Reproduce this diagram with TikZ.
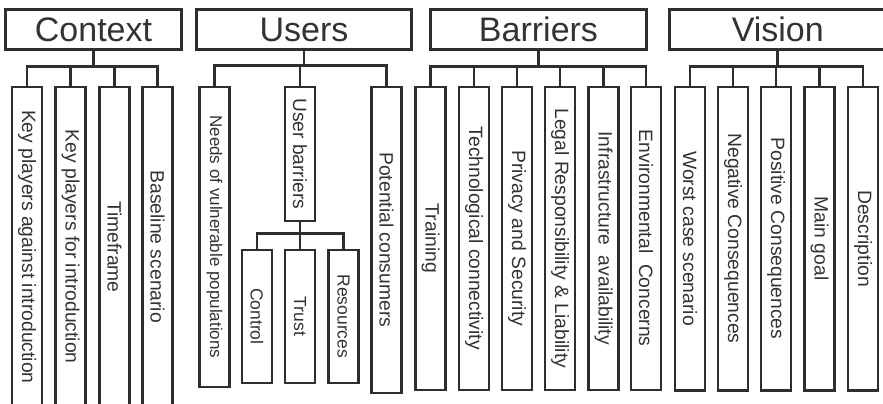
\documentclass[tikz,border=0pt]{standalone}
\usepackage{fontspec}
\setmainfont{Liberation Sans}
\usepackage{graphicx}
\definecolor{ink}{HTML}{2E2E2E}
\definecolor{txt}{HTML}{333333}
\newcommand{\vtext}[2]{\rotatebox[origin=c]{-90}{\fontsize{#1}{#1}\selectfont #2}}
\tikzset{
  box/.style={draw=ink, line width=2.6pt, fill=white, inner sep=0pt, text=txt,
              anchor=north},
  head/.style={box, minimum height=39.5pt, font=\fontsize{34}{34}\selectfont},
  leaf/.style={box, minimum width=30pt},
  conn/.style={line width=2.6pt, draw=ink, line join=miter},
}
\begin{document}
\begin{tikzpicture}[x=1pt, y=-1pt]
\useasboundingbox (0,0) rectangle (883,404);
\clip (0,0) rectangle (883,404);
\fill[white] (0,0) rectangle (883,404);

% headers
\node[head, minimum width=176pt]   (ctx) at (93.5,8.5)  {Context};
\node[head, minimum width=215pt]   (usr) at (304,8.5)   {Users};
\node[head, minimum width=216pt]   (bar) at (538.5,8.5) {Barriers};
\node[head, minimum width=216.5pt] (vis) at (777.75,8.5) {Vision};

\coordinate (hb) at (0,66.5);
\coordinate (ub) at (0,65.5);
\coordinate (sb) at (0,233.5);

% Context
\node[leaf, minimum height=320pt] (c1) at (27,85.5)    {\vtext{19.3}{Key players against introduction}};
\node[leaf, minimum height=320pt] (c2) at (70.5,85.5)  {\vtext{19.3}{Key players for introduction}};
\node[leaf, minimum height=320pt] (c3) at (114.5,85.5) {\vtext{19.3}{Timeframe}};
\node[leaf, minimum height=320pt] (c4) at (157.5,85.5) {\vtext{19.3}{Baseline scenario}};

% Users
\node[leaf, minimum height=300pt] (u1) at (214.5,85.5) {\vtext{17}{Needs of vulnerable populations}};
\node[leaf, minimum height=134pt] (u2) at (300,85.5)   {\vtext{19.2}{User barriers}};
\node[leaf, minimum height=306pt] (u3) at (386.5,85.5) {\vtext{19.3}{Potential consumers}};
\node[leaf, minimum height=133pt] (s1) at (257,248.5)  {\vtext{17.5}{Control}};
\node[leaf, minimum height=133pt] (s2) at (300,248.5)  {\vtext{17.5}{Trust}};
\node[leaf, minimum height=133pt] (s3) at (343.5,248.5) {\vtext{17.5}{Resources}};

% Barriers
\node[leaf, minimum height=303pt] (b1) at (430.5,85.5) {\vtext{19.3}{Training}};
\node[leaf, minimum height=303pt] (b2) at (474,85.5)   {\vtext{19.3}{Technological connectivity}};
\node[leaf, minimum height=303pt] (b3) at (517,85.5)   {\vtext{19.3}{Privacy and Security}};
\node[leaf, minimum height=303pt] (b4) at (560,85.5)   {\vtext{19.3}{Legal Responsibility \& Liability}};
\node[leaf, minimum height=303pt] (b5) at (603.5,85.5) {\vtext{19.3}{Infrastructure\ \ availability}};
\node[leaf, minimum height=303pt] (b6) at (646,85.5)   {\vtext{19.3}{Environmental\ \ Concerns}};

% Vision
\node[leaf, minimum height=303.5pt] (v1) at (690,85.5)   {\vtext{19.3}{Worst case scenario}};
\node[leaf, minimum height=303.5pt] (v2) at (733,85.5)   {\vtext{19.3}{Negative Consequences}};
\node[leaf, minimum height=303.5pt] (v3) at (776,85.5)   {\vtext{19.3}{Positive Consequences}};
\node[leaf, minimum height=303.5pt] (v4) at (819.5,85.5) {\vtext{19.3}{Main goal}};
\node[leaf, minimum height=303.5pt] (v5) at (863,85.5)   {\vtext{19.3}{Description}};

% connectors: Context
\draw[conn] (ctx.south) -- (ctx.south |- hb);
\draw[conn] (c1.north) |- (hb -| c4.north) -- (c4.north);
\foreach \n in {c2,c3} \draw[conn] (\n.north) -- (\n.north |- hb);

% connectors: Users
\draw[conn] (usr.south) -- (usr.south |- ub);
\draw[conn] (u1.north) |- (ub -| u3.north) -- (u3.north);
\draw[conn] (u2.north) -- (u2.north |- ub);
\draw[conn] (u2.south) -- (u2.south |- sb);
\draw[conn] (s1.north) |- (sb -| s3.north) -- (s3.north);
\draw[conn] (s2.north) -- (s2.north |- sb);

% connectors: Barriers
\draw[conn] (bar.south) -- (bar.south |- hb);
\draw[conn] (b1.north) |- (hb -| b6.north) -- (b6.north);
\foreach \n in {b2,b3,b4,b5} \draw[conn] (\n.north) -- (\n.north |- hb);

% connectors: Vision
\draw[conn] (vis.south) -- (vis.south |- hb);
\draw[conn] (v1.north) |- (hb -| v5.north) -- (v5.north);
\foreach \n in {v2,v3,v4} \draw[conn] (\n.north) -- (\n.north |- hb);
\end{tikzpicture}
\end{document}
